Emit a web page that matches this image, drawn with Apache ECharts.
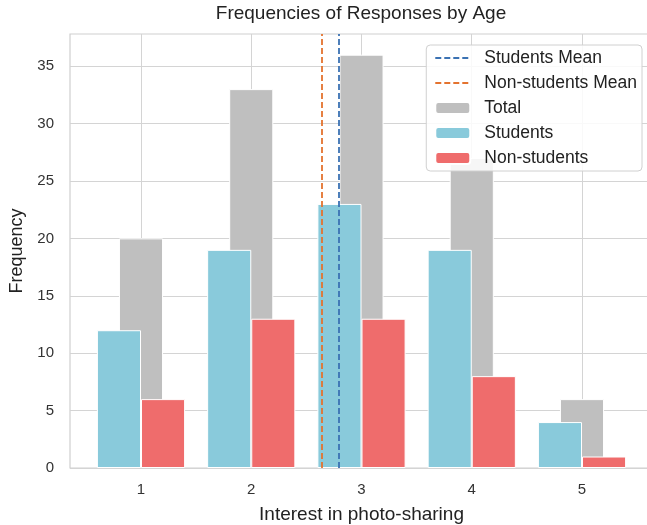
<!DOCTYPE html>
<html>
<head>
<meta charset="utf-8">
<script src="https://cdn.jsdelivr.net/npm/echarts@6/dist/echarts.min.js"></script>
<style>
html,body{margin:0;padding:0;background:#fff;}
#chart{width:647px;height:525px;}
</style>
</head>
<body>
<div id="chart"></div>
<script>
// ---- data ----
var categories = [1, 2, 3, 4, 5];
var students = [12, 19, 23, 19, 4];
var nonStudents = [6, 13, 13, 8, 1];
var total = [20, 33, 36, 27, 6];
var studentsMean = 2.79;
var nonStudentsMean = 2.64;
var yTicks = [0, 5, 10, 15, 20, 25, 30, 35];

var FONT = '"Liberation Sans", Arial, sans-serif';

function pairs(vals) {
  return categories.map(function (c, i) { return [c, vals[i]]; });
}

var chart = echarts.init(document.getElementById('chart'), null, {renderer: 'canvas'});

var option = {
  backgroundColor: '#ffffff',
  animation: false,
  textStyle: {fontFamily: FONT},
  graphic: [{
    type: 'text',
    z: 10,
    style: {
      x: 361, y: 14,
      text: 'Frequencies of Responses by Age',
      textAlign: 'center', textVerticalAlign: 'middle',
      font: '19px ' + FONT,
      fill: '#222'
    }
  }],
  grid: {
    left: 70, width: 583, top: 34, height: 434,
    outerBoundsMode: 'none',
    show: true, borderColor: '#cfcfcf', borderWidth: 1.2,
    containLabel: false
  },
  legend: {
    orient: 'vertical',
    right: 5, top: 45,
    itemWidth: 35, itemHeight: 12, itemGap: 7,
    padding: [4, 5, 4, 8],
    backgroundColor: 'rgba(255,255,255,0.85)',
    borderColor: '#d0d0d0', borderWidth: 1, borderRadius: 4,
    textStyle: {fontSize: 17.5, color: '#222', fontFamily: FONT, padding: [0, 0, 0, 9]},
    data: [
      {name: 'Students Mean', itemStyle: {opacity: 0}},
      {name: 'Non-students Mean', itemStyle: {opacity: 0}},
      'Total', 'Students', 'Non-students'
    ]
  },
  xAxis: {
    type: 'value',
    min: 0.356, max: 5.644,
    name: 'Interest in photo-sharing',
    nameLocation: 'middle', nameGap: 37,
    nameTextStyle: {fontSize: 19, color: '#222', fontFamily: FONT},
    axisLine: {show: false},
    axisTick: {show: false, customValues: categories},
    axisLabel: {customValues: categories, fontSize: 15, color: '#333', margin: 14, fontFamily: FONT},
    splitLine: {show: true, lineStyle: {color: '#d4d4d4', width: 1}}
  },
  yAxis: {
    type: 'value',
    min: 0, max: 37.8,
    name: 'Frequency',
    nameLocation: 'middle', nameGap: 39, nameRotate: 90,
    nameTextStyle: {fontSize: 18, color: '#222', fontFamily: FONT},
    axisLine: {show: false},
    axisTick: {show: false, customValues: yTicks},
    axisLabel: {fontSize: 15, color: '#333', margin: 16, fontFamily: FONT, customValues: yTicks},
    splitLine: {show: true, lineStyle: {color: '#d4d4d4', width: 1}}
  },
  series: [
    {
      name: 'Students', type: 'bar', data: pairs(students),
      barWidth: '40%', barGap: '-50%', z: 3,
      itemStyle: {color: '#89CADB', borderColor: '#ffffff', borderWidth: 1}
    },
    {
      name: 'Total', type: 'bar', data: pairs(total),
      barWidth: '40%', barGap: '-50%', z: 2,
      itemStyle: {color: '#BFBFBF', borderColor: '#ffffff', borderWidth: 1}
    },
    {
      name: 'Non-students', type: 'bar', data: pairs(nonStudents),
      barWidth: '40%', barGap: '-50%', z: 3,
      itemStyle: {color: '#EF6C6C', borderColor: '#ffffff', borderWidth: 1}
    },
    {
      name: 'Students Mean', type: 'line', data: [], symbol: 'none', z: 5,
      itemStyle: {color: '#3b72b3'},
      lineStyle: {color: '#3b72b3', type: [6, 3], width: 1.8},
      markLine: {
        silent: true, symbol: ['none', 'none'], label: {show: false},
        lineStyle: {color: '#3b72b3', type: [6, 3], width: 1.8},
        data: [{xAxis: studentsMean}]
      }
    },
    {
      name: 'Non-students Mean', type: 'line', data: [], symbol: 'none', z: 5,
      itemStyle: {color: '#e4732f'},
      lineStyle: {color: '#e4732f', type: [6, 3], width: 1.8},
      markLine: {
        silent: true, symbol: ['none', 'none'], label: {show: false},
        lineStyle: {color: '#e4732f', type: [6, 3], width: 1.8},
        data: [{xAxis: nonStudentsMean}]
      }
    }
  ]
};
chart.setOption(option);
</script>
</body>
</html>
